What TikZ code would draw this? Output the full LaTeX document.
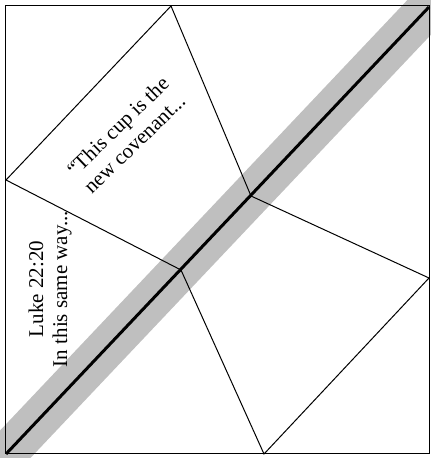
\documentclass[tikz,border=0pt]{standalone}
\usepackage{fontspec}
\setmainfont{Liberation Serif}
\usepackage{tikz}
\usetikzlibrary{calc}

\begin{document}
\begin{tikzpicture}[x=1pt, y=1pt, line width=1pt, font=\fontsize{21}{24}\selectfont]
  \useasboundingbox (0,0) rectangle (431,458);
  \coordinate (sw) at (6,4);
  \coordinate (ne) at (429,451);
  \coordinate (top) at (171,452);
  \coordinate (left) at (6,278);
  \coordinate (upper) at (251,262);
  \coordinate (lower) at (181,188);
  \coordinate (right) at (429,180);
  \coordinate (bottom) at (264,4);
  % shaded band along the fold
  \draw[gray!50, line width=41pt] ($(sw)!-0.1!(ne)$) -- ($(ne)!-0.1!(sw)$);
  \draw (5,4) rectangle (429,452);
  \draw (top) -- (left) -- (lower);
  \draw (top) -- (upper) -- (right) -- (bottom) -- (lower);
  \draw[line width=3pt] (sw) -- (ne);
  \node[align=center, rotate=44] (cup) at (126,323) {``This cup is the\\ new covenant...};
  \node[align=center, rotate=90] (luke) at (50,169) {Luke 22:20\\ In this same way...};
\end{tikzpicture}
\end{document}
